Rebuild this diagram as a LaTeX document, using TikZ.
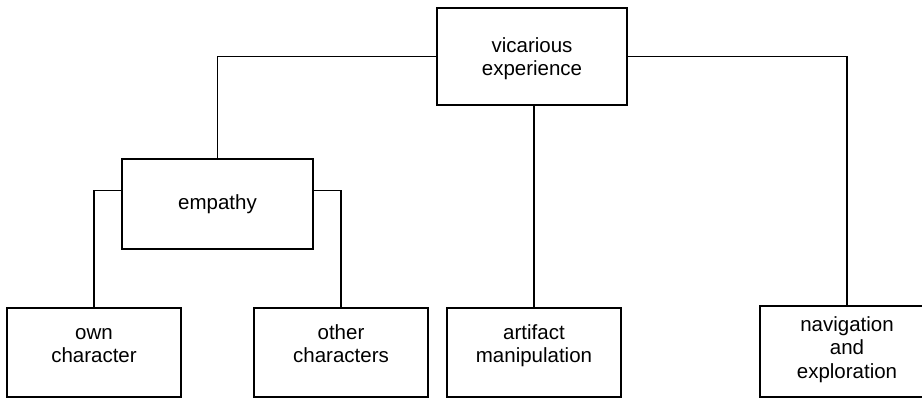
\documentclass[tikz,border=0pt]{standalone}
\usepackage{fontspec}
\setmainfont{Liberation Sans}
\begin{document}
\begin{tikzpicture}[x=1pt,y=-1pt,
  box/.style={draw, line width=1.5pt, inner sep=0pt, minimum width=174pt, minimum height=89pt},
  lbl/.style={align=center, inner sep=0pt, anchor=base, font=\fontsize{20.5}{23.5}\selectfont},
  link/.style={draw, line width=1.5pt}]
\useasboundingbox (0,0) rectangle (922,399);
% boxes
\node[box, minimum width=190pt, minimum height=97pt] (vic) at (532,56.5) {};
\node[box, minimum width=191pt, minimum height=90pt] (emp) at (217.5,204) {};
\node[box] (own) at (94,352.5) {};
\node[box] (oth) at (341,352.5) {};
\node[box] (art) at (534,352.5) {};
\node[box, minimum height=91pt] (nav) at (847,351.5) {};
% texts (anchored at the baseline of the last line)
\node[lbl] (vict) at (532,75.5) {vicarious\\experience};
\node[lbl] (empt) at (217.5,209) {empathy};
\node[lbl] (ownt) at (94,362.5) {own\\character};
\node[lbl] (otht) at (341,362.5) {other\\characters};
\node[lbl] (artt) at (534,362.5) {artifact\\manipulation};
\node[lbl] (navt) at (847,378) {navigation\\and\\exploration};
% connectors
\draw[link] (vic.west) -| (emp.north);
\draw[link] (vic.east) -| (nav.north);
\draw[link] (art.north |- vic.south) -- (art.north);
\draw[link] ([yshift=-32pt]emp.north west) -| (own.north);
\draw[link] ([yshift=-32pt]emp.north east) -| (oth.north);
\end{tikzpicture}
\end{document}
